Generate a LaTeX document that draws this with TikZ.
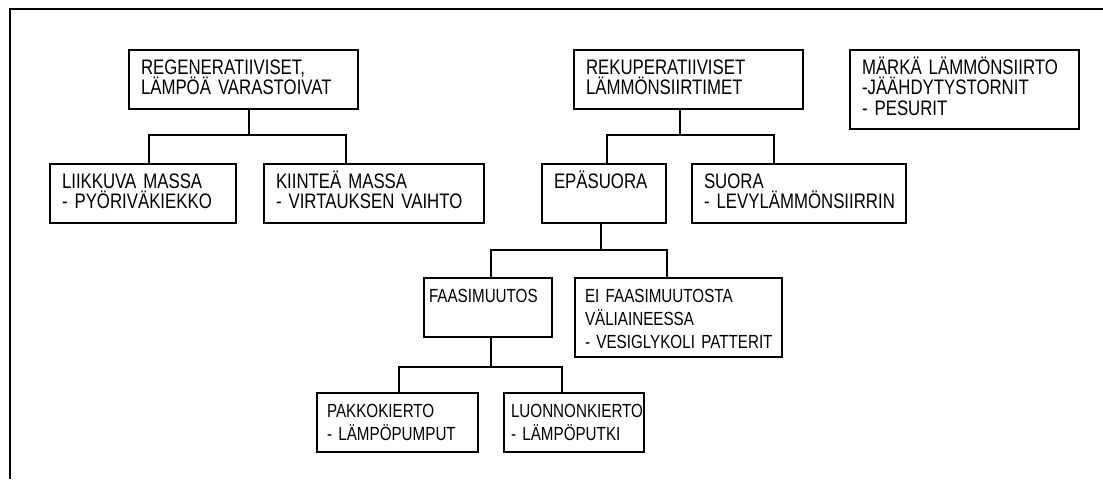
\documentclass[tikz,border=0pt]{standalone}
\usepackage{fontspec}
\newfontfamily\boxfont[FakeStretch=0.8]{Liberation Sans}
\usepackage{tikz}

\begin{document}
\begin{tikzpicture}[
        x=0.5pt, y=-0.5pt,
        frame/.style={line width=1pt},
        box/.style={draw, line width=1pt, anchor=north west, align=left,
            inner xsep=6pt, inner ysep=0pt,
            text height=12pt, text depth=17.25pt,
            font=\boxfont\fontsize{10.5}{10.25}\selectfont,
            execute at begin node={\rightskip=-30pt plus 1fil}},
        small/.style={inner xsep=5pt, font=\boxfont\fontsize{9.5}{11.5}\selectfont},
        tall/.style={text depth=27.5pt},
        link/.style={line width=1pt}
    ]
    \useasboundingbox (0,0) rectangle (1103,479);
    \draw[frame] (10,479) |- (1103,9);

    % top row
    \node[box, text width=102.5pt] (regen) at (128,49) {REGENERATIIVISET,\\LÄMPÖÄ VARASTOIVAT};
    \node[box, text width=102.5pt] (rekup) at (573,49) {REKUPERATIIVISET\\LÄMMÖNSIIRTIMET};
    \node[box, tall, text width=102.5pt] (marka) at (849,49) {MÄRKÄ LÄMMÖNSIIRTO\\-JÄÄHDYTYSTORNIT\\- PESURIT};

    % second row
    \node[box, text width=81pt] (liikkuva) at (49,163) {LIIKKUVA MASSA\\- PYÖRIVÄKIEKKO};
    \node[box, text width=98pt] (kiintea) at (263,163) {KIINTEÄ MASSA\\- VIRTAUKSEN VAIHTO};
    \node[box, text width=50pt] (epasuora) at (541,163) {EPÄSUORA};
    \node[box, text width=95pt] (suora) at (691,163) {SUORA\\- LEVYLÄMMÖNSIIRRIN};

    % third row
    \node[box, small, inner xsep=2.5pt, text width=59pt] (faasi) at (423,277) {FAASIMUUTOS};
    \node[box, small, tall, text width=93.5pt] (eifaasi) at (574,277) {EI FAASIMUUTOSTA\\VÄLIAINEESSA\\- VESIGLYKOLI PATTERIT};

    % bottom row
    \node[box, small, text width=70.5pt] (pakko) at (316,392) {PAKKOKIERTO\\- LÄMPÖPUMPUT};
    \node[box, small, inner xsep=3.5pt, text width=63pt] (luonnon) at (503,392) {LUONNONKIERTO\\- LÄMPÖPUTKI};

    \draw[link] ([xshift=2.75pt]regen.south) -- ++(0,-12.5pt) -| ([xshift=3pt]liikkuva.north);
    \draw[link] ([xshift=2.75pt]regen.south) -- ++(0,-12.5pt) -| ([xshift=-14pt]kiintea.north);
    \draw[link] ([xshift=-4.25pt]rekup.south) -- ++(0,-12.5pt) -| ([xshift=1.5pt]epasuora.north);
    \draw[link] ([xshift=-4.25pt]rekup.south) -- ++(0,-12.5pt) -| ([xshift=-12.5pt]suora.north);
    \draw[link] ([xshift=-1.5pt]epasuora.south) -- ++(0,-13pt) -| ([xshift=1.5pt]faasi.north);
    \draw[link] ([xshift=-1.5pt]epasuora.south) -- ++(0,-13pt) -| ([xshift=-5.75pt]eifaasi.north);
    \draw[link] ([xshift=1.5pt]faasi.south) -- ++(0,-14.5pt) -| ([xshift=0.75pt]pakko.north);
    \draw[link] ([xshift=1.5pt]faasi.south) -- ++(0,-14.5pt) -| ([xshift=-6pt]luonnon.north);

\end{tikzpicture}
\end{document}
